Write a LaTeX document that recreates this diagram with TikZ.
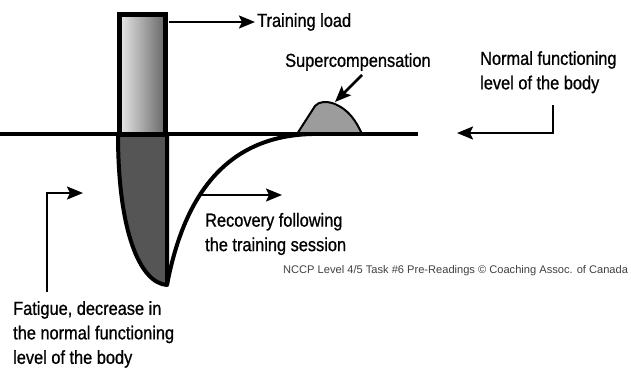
\documentclass[tikz,border=0pt]{standalone}
\usepackage{fontspec}
\setmainfont{Liberation Sans}[FakeStretch=0.87,FakeBold=0.8]
\newfontfamily\nccpfont{Liberation Sans}
\usetikzlibrary{arrows.meta}
\definecolor{fatig}{HTML}{555555}
\definecolor{hump}{HTML}{9C9C9C}
\definecolor{barL}{HTML}{E8E8E8}
\definecolor{barR}{HTML}{666666}
\begin{document}
\begin{tikzpicture}[x=1pt,y=-1pt,
  lbl/.style={font=\fontsize{18.8}{24.5}\selectfont, inner sep=0pt, align=left},
  arr/.style={line width=2pt, -{Stealth[length=16pt,width=13pt,inset=3pt]}},
  thickline/.style={line width=4.5pt},
]
\useasboundingbox (0,0) rectangle (631,373);
% fatigue shape
\filldraw[fill=fatig, line width=4pt, line join=round]
  (118,134) .. controls (118,232) and (140,283) .. (167,285) -- (167,134);
% training load bar
\shade[left color=barL, right color=barR] (119.5,14.5) rectangle (165.5,134);
\draw[line width=5pt] (119.5,14.5) rectangle (165.5,134);
% supercompensation hump
\filldraw[fill=hump, line width=2pt, line join=round]
  (297,134) -- (315,106) .. controls (319,101) and (327,101) .. (335,104)
  .. controls (349,110) and (356,121) .. (362,134) -- cycle;
% baseline
\draw[thickline] (0,134) coordinate (b0) -- (418,134) coordinate (b1);
% recovery curve
\draw[line width=4pt] (167,285) coordinate (bot) .. controls (185,190) and (230,136) .. (312,134);
% labels
\node[lbl, anchor=west] (tl) at (257,22) {Training load};
\node[lbl, anchor=west] (sc) at (285,62) {Supercompensation};
\node[lbl, anchor=north west] (nf) at (480,51) {Normal functioning\\level of the body};
\node[lbl, anchor=west] (rec) at (205,234) {Recovery following\\the training session};
\node[lbl, anchor=north west] (fat) at (13,301) {Fatigue, decrease in\\the normal functioning\\level of the body};
\node[font=\nccpfont\fontsize{11.1}{13}\selectfont, text=black!75, inner sep=0pt, anchor=west] (nccp) at (283,271) {NCCP Level 4/5 Task \#6 Pre-Readings © Coaching Assoc. of Canada};
% connectors
\coordinate (tlS) at (169,22);
\draw[arr, shorten >=2pt] (tlS) -- (tl.west);
\coordinate (scS) at (362,75);
\coordinate (scE) at (335,102);
\draw[arr, line width=2.5pt] (scS) -- (scE);
\coordinate (nfS) at (553,105);
\coordinate (nfE) at (457,133);
\draw[arr] (nfS) |- (nfE);
\coordinate (recS) at (198,195);
\coordinate (recE) at (282,195);
\draw[arr] (recS) -- (recE);
\coordinate (fatS) at (47,292);
\coordinate (fatE) at (83,193);
\draw[arr] (fatS) |- (fatE);
\end{tikzpicture}
\end{document}
